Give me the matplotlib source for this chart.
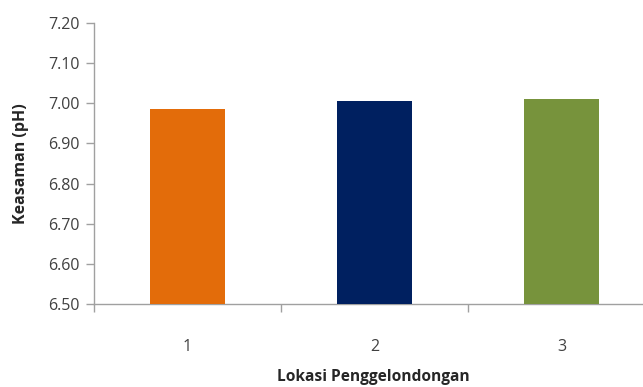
import matplotlib
matplotlib.use("Agg")
import matplotlib.pyplot as plt
from matplotlib.ticker import FixedLocator

# Data
locations = ["1", "2", "3"]
ph_values = [6.986, 7.006, 7.011]
bar_colors = ["#E36C0A", "#002060", "#77933C"]
y_ticks = [6.50, 6.60, 6.70, 6.80, 6.90, 7.00, 7.10, 7.20]

plt.rcParams["font.family"] = ["Open Sans", "DejaVu Sans"]

W, H = 643, 387
fig = plt.figure(figsize=(W / 100, H / 100), dpi=100)
ax = fig.add_axes([94 / W, 1 - 304 / H, 561 / W, (304 - 23) / H])

pos = list(range(1, len(locations) + 1))
ax.bar(pos, [v - y_ticks[0] for v in ph_values], bottom=y_ticks[0],
       width=0.4, color=bar_colors, zorder=3)

ax.set_xlim(0.5, 3.5)
ax.set_ylim(y_ticks[0], y_ticks[-1])

axis_gray = "#A0A0A0"
for side in ["top", "right"]:
    ax.spines[side].set_visible(False)
for side in ["left", "bottom"]:
    ax.spines[side].set_color(axis_gray)
    ax.spines[side].set_linewidth(1.0)

ax.set_yticks(y_ticks)
ax.set_yticklabels([f"{t:.2f}" for t in y_ticks])
ax.tick_params(axis="y", length=6, width=1.0, color=axis_gray,
               labelsize=11.5, labelcolor="#404040", pad=4)

# category labels centered, tick marks at category boundaries
ax.xaxis.set_major_locator(FixedLocator([0.5, 1.5, 2.5, 3.5]))
ax.set_xticklabels(["", "", "", ""])
ax.xaxis.set_minor_locator(FixedLocator(pos))
ax.set_xticklabels(locations, minor=True)
ax.tick_params(axis="x", which="major", length=6, width=1.0, color=axis_gray)
ax.tick_params(axis="x", which="minor", length=0, labelsize=11.5,
               labelcolor="#404040", pad=25)

ax.set_ylabel("Keasaman (pH)", fontsize=11.5, fontweight="bold",
              color="#262626", labelpad=14)
fig.text(373 / W, 1 - 377 / H, "Lokasi Penggelondongan", fontsize=11.2,
         fontweight="bold", color="#262626", ha="center", va="center")

fig.savefig("out.png", dpi=100, facecolor="white")
